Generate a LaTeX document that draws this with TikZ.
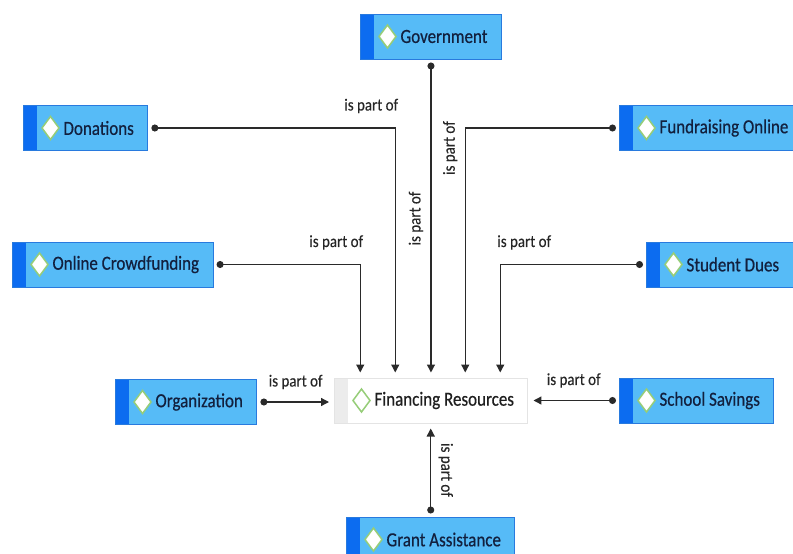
\documentclass[tikz,border=0pt]{standalone}
\usepackage{fontspec}
\setmainfont{Carlito}
\newfontfamily\boxfont[FakeStretch=0.85, FakeBold=0.5]{Carlito}
\newfontfamily\relfont[FakeStretch=0.88, FakeBold=0.3]{Carlito}
\usetikzlibrary{arrows.meta}
\definecolor{boxfill}{RGB}{86,187,247}
\definecolor{boxedge}{RGB}{40,122,222}
\definecolor{stripeblue}{RGB}{12,108,240}
\definecolor{boxtext}{RGB}{18,32,62}
\definecolor{diamondedge}{RGB}{150,205,120}
\definecolor{focusedge}{RGB}{228,228,228}
\definecolor{stripegrey}{RGB}{236,236,236}
\definecolor{linegrey}{RGB}{42,42,42}
\begin{document}
\begin{tikzpicture}[x=1pt, y=-1pt,
  entity/.style={draw=boxedge, fill=boxfill, rectangle, anchor=west, minimum height=45pt, inner xsep=14pt, inner ysep=0pt, line width=1pt, text=boxtext, font=\boxfont\fontsize{20}{22}\selectfont, execute at begin node={\hspace*{26pt}},
    path picture={\fill[#1] (path picture bounding box.south west) rectangle ([xshift=13pt]path picture bounding box.north west);
      \draw[diamondedge, fill=white, line width=1.5pt] ([xshift=27pt]path picture bounding box.west) +(0pt,11.5pt) -- +(8.5pt,0pt) -- +(0pt,-11.5pt) -- +(-8.5pt,0pt) -- cycle;}},
  entity/.default=stripeblue,
  focus/.style={entity=stripegrey, fill=white, draw=focusedge, text=black!88},
  link/.style={draw=linegrey, line width=1.3pt, arrows={Circle[length=7pt]-Triangle[length=8pt, width=8pt]}, shorten <=3pt, shorten >=5pt},
  rel/.style={font=\relfont\fontsize{17}{19}\selectfont, text=black!85, inner sep=1pt}]
\useasboundingbox (0,0) rectangle (793,554);
\clip (0,0) rectangle (793,554);
\node (fin) [focus] at (334,400.5) {Financing Resources};
\node (gov) [entity] at (360,36.5) {Government};
\node (donations) [entity] at (23,128) {Donations};
\node (fundonline) [entity] at (619,128) {Fundraising Online};
\node (crowd) [entity] at (12,264.5) {Online Crowdfunding};
\node (dues) [entity] at (646,264.5) {Student Dues};
\node (org) [entity] at (115,402) {Organization};
\node (savings) [entity] at (619,400.5) {School Savings};
\node (grant) [entity] at (346,539.5) {Grant Assistance};
% from the top
\draw [link] (gov.south) -- (gov.south |- fin.north) node[rel, pos=.5, xshift=-15pt, rotate=90] {is part of};
\draw [link] (donations.east) -| ([xshift=-36pt]fin.north) node[rel, pos=.5, xshift=-24pt, yshift=22pt] {is part of};
\draw [link] (crowd.east) -| ([xshift=-71pt]fin.north) node[rel, pos=.5, xshift=-24pt, yshift=22pt] {is part of};
\draw [link] (fundonline.west) -| ([xshift=34pt]fin.north) node[rel, pos=.5, xshift=-15pt, yshift=-20pt, rotate=90] {is part of};
\draw [link] (dues.west) -| ([xshift=69pt]fin.north) node[rel, pos=.5, xshift=24pt, yshift=22pt] {is part of};
% sides and bottom
\draw [link] (org.east) -- (org.east -| fin.west) node[rel, pos=.5, yshift=20pt] {is part of};
\draw [link] (savings.west) -- (savings.west -| fin.east) node[rel, pos=.5, yshift=20pt] {is part of};
\draw [link] (grant.north) -- (grant.north |- fin.south) node[rel, pos=.5, xshift=15pt, rotate=-90] {is part of};
\end{tikzpicture}
\end{document}
